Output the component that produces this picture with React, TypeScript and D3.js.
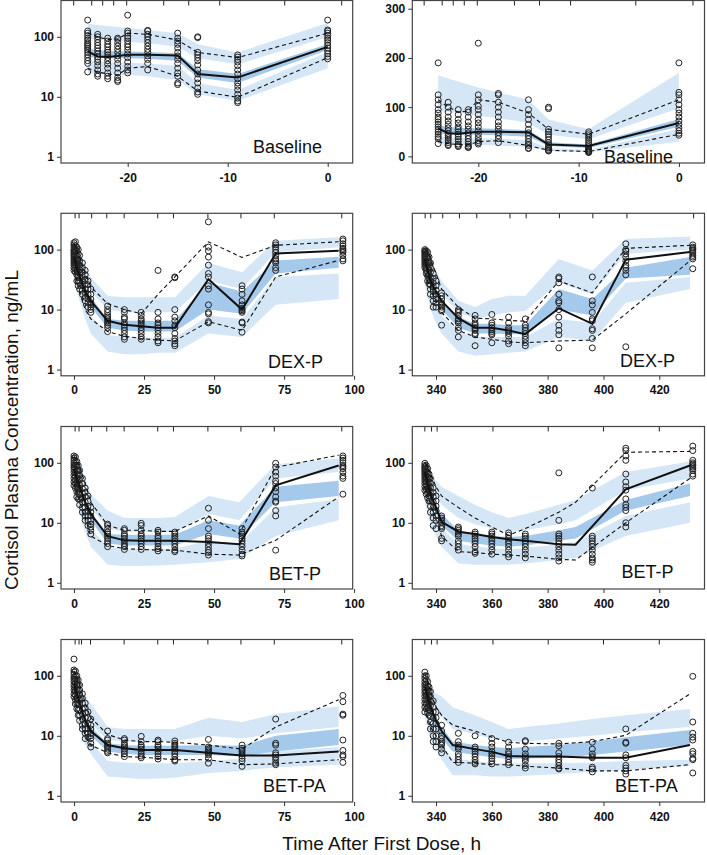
import React, { useEffect, useRef } from 'react';
import * as d3 from 'd3';

// ---- data ----
type Obs = [number, number[]][];

// Baseline (same data on log and linear panels)
const baseT = [-24, -23, -22, -21, -20, -18, -15, -13, -9, 0];
const baseMed = [57, 47, 46, 48, 50, 50, 49, 24, 21, 68];
const baseHi = [115, 100, 90, 92, 115, 110, 88, 55, 45, 115];
const baseLo = [30, 26, 24, 23, 30, 32, 22, 12.5, 9.8, 45];
const baseHiHi = [165, 158, 152, 146, 140, 130, 115, 75, 55, 170];
const baseHiLo = [92, 90, 88, 86, 82, 78, 68, 44, 35, 98];
const baseMedHi = [64, 60, 58, 57, 57, 56, 53, 29, 24, 76];
const baseMedLo = [46, 45, 44, 44, 44, 43, 40, 21, 17, 60];
const baseLoHi = [41, 39, 38, 37, 37, 36, 33, 17, 13, 56];
const baseLoLo = [25, 24, 24, 23, 23, 22, 19, 11, 8.5, 30];
const baseObs: Obs = [
  [-24, [190, 125, 115, 105, 95, 88, 80, 75, 70, 65, 60, 55, 50, 45, 40, 36, 26]],
  [-23, [110, 100, 90, 80, 72, 65, 58, 52, 46, 42, 38, 33, 28, 24, 22]],
  [-22, [95, 85, 75, 68, 60, 55, 50, 45, 40, 35, 30, 25, 22, 20]],
  [-21, [95, 90, 80, 70, 62, 55, 48, 42, 36, 30, 25, 21, 19, 18]],
  [-20, [230, 125, 115, 102, 95, 85, 75, 68, 60, 52, 45, 38, 32, 28, 25]],
  [-18, [128, 125, 110, 100, 90, 80, 70, 62, 55, 48, 42, 36, 28]],
  [-15, [115, 95, 85, 75, 65, 55, 48, 42, 36, 30, 25, 22, 17, 16]],
  [-13, [100, 97, 55, 50, 45, 40, 34, 28, 24, 20, 17, 14, 12, 11]],
  [-9, [50, 46, 42, 38, 33, 28, 24, 20, 17, 15, 13, 11, 9.5, 8.5, 8]],
  [0, [190, 130, 125, 115, 105, 95, 88, 80, 72, 65, 58, 52, 47, 43]],
];

// DEX-P, first dose
const dexLT = [0, 1, 2, 3, 4, 6, 12, 18, 24, 30, 36, 48, 60, 72, 94.5];
const dexLMed = [75, 50, 36, 27, 20, 14, 6.5, 5.6, 5.3, 5.0, 5.0, 32, 10, 86, 96];
const dexLHi = [125, 100, 75, 55, 40, 24, 12.5, 10, 8.5, 18, 35, 135, 74, 118, 135];
const dexLLo = [45, 30, 20, 14, 10, 7, 4.3, 3.6, 3.3, 3.1, 3.0, 6.3, 4.5, 35, 66];
const dexLHiHi = [150, 120, 90, 70, 55, 35, 17, 16, 16, 16, 16, 60, 42, 140, 160];
const dexLHiLo = [110, 85, 60, 45, 35, 20, 10, 9, 9, 9, 9, 30, 22, 90, 110];
const dexLMedHi = [85, 60, 42, 32, 24, 16, 7, 6.5, 6.5, 6.5, 6.5, 28, 20, 66, 76];
const dexLMedLo = [65, 44, 30, 22, 17, 11, 5, 4.5, 4.3, 4.3, 4.3, 10, 8.5, 40, 50];
const dexLLoHi = [55, 36, 25, 17, 13, 8, 3.8, 3.5, 3.4, 3.4, 3.4, 8, 7, 35, 40];
const dexLLoLo = [35, 22, 14, 10, 7, 4, 2.0, 1.8, 1.8, 1.9, 1.9, 4, 3.5, 12, 15];
const dexLObs: Obs = [
  [0, [130, 120, 110, 100, 95, 90, 85, 80, 75, 70, 65, 60, 55, 50, 45]],
  [0.5, [135, 115, 100, 90, 80, 70, 60, 55, 48, 42]],
  [1, [110, 95, 80, 70, 60, 52, 45, 38, 30]],
  [1.5, [100, 85, 70, 58, 50, 42, 36, 30, 25]],
  [2, [80, 65, 55, 46, 40, 34, 28, 22]],
  [3, [60, 50, 42, 35, 30, 25, 21, 18]],
  [4, [45, 38, 32, 27, 22, 19, 16, 14]],
  [5, [30, 26, 22, 18, 15, 13, 11]],
  [6, [22, 18, 15, 13, 12, 11, 10, 9]],
  [12, [11.5, 10, 9, 8, 7.5, 7, 6.5, 6, 5.5, 5, 4.3]],
  [18, [10, 9, 7.5, 7, 6, 5.5, 5, 4.5, 4, 3.5, 3.2]],
  [24, [9, 8, 7, 6.5, 6, 5.5, 5, 4.5, 4, 3.5, 3.2]],
  [30, [45, 9, 7, 6, 5.5, 5, 4.5, 4, 3.5, 3, 2.8]],
  [36, [35, 34, 10, 7.5, 6.5, 5.5, 5, 4, 3.3, 3, 2.7, 2.5]],
  [48, [290, 110, 95, 75, 55, 40, 35, 25, 22, 12, 9, 8.5, 6.3, 6]],
  [60, [25, 22, 18, 14, 12, 10.5, 10, 9.5, 9, 6.2, 6, 4.2]],
  [72, [130, 120, 110, 100, 90, 80, 70, 65, 60, 50, 45]],
  [96, [150, 140, 125, 115, 105, 100, 95, 90, 80, 70, 65]],
];

// DEX-P, last dose
const dexRT = [336, 337, 338, 340, 342, 348, 354, 360, 366, 372, 384, 396, 408, 431];
const dexRMed = [70, 45, 30, 20, 14, 7.2, 5, 5, 4.5, 3.9, 10.5, 5.8, 68, 91];
const dexRHi = [100, 90, 70, 40, 22, 11, 7.2, 7, 6.6, 6.4, 30, 19, 105, 118];
const dexRLo = [40, 30, 22, 14, 9, 4.5, 3.5, 3.2, 2.9, 2.8, 3.0, 3.1, 8.5, 65];
const dexRHiHi = [130, 100, 75, 45, 30, 14, 11, 15, 17, 17, 70, 45, 150, 165];
const dexRHiLo = [85, 65, 45, 26, 18, 9, 7, 8, 9, 9.5, 28, 18, 85, 100];
const dexRMedHi = [75, 50, 35, 21, 14, 7.5, 5.8, 5.8, 5.5, 5.5, 22, 15, 50, 75];
const dexRMedLo = [55, 38, 25, 15, 10, 5, 4, 4, 3.9, 3.9, 10, 8, 33, 38];
const dexRLoHi = [50, 33, 22, 13, 8, 4.3, 3.5, 3.5, 3.5, 3.5, 7, 6, 28, 35];
const dexRLoLo = [25, 16, 10, 6, 4, 2.0, 1.7, 1.8, 1.9, 2.0, 3.5, 3.0, 13, 22];
const dexRObs: Obs = [
  [336, [100, 95, 90, 85, 80, 75, 70, 65, 60, 55, 50]],
  [336.5, [95, 85, 75, 65, 58, 50, 45, 40]],
  [337, [90, 75, 62, 55, 48, 42, 36, 30]],
  [337.5, [75, 62, 52, 45, 38, 32, 27]],
  [338, [60, 50, 42, 35, 30, 26, 22, 18]],
  [339, [40, 33, 28, 24, 20, 17, 14, 11]],
  [340, [30, 25, 21, 18, 15, 13, 11]],
  [342, [19, 17, 15, 13, 12, 11, 10, 9.5, 5.5]],
  [348, [10, 9.5, 9, 8, 7, 6.5, 6, 5, 4.5, 3.5]],
  [354, [8, 7, 6, 5.5, 5, 4.8, 4.5, 4, 3.8, 2.5]],
  [360, [8.3, 6, 5.5, 5, 4.6, 4.3, 4, 3.8, 2.8]],
  [366, [7.5, 6, 5, 4.6, 4.3, 4, 3.6, 3, 2.7]],
  [372, [7, 5.5, 5, 4.5, 4, 3.6, 3.2, 2.8, 2.5]],
  [384, [35, 33, 28, 18, 14, 13, 10, 7.5, 5.5, 4.5, 3.8, 2.3]],
  [396, [35, 14, 12, 9, 7, 6.5, 4.8, 4.5, 3.3, 2.3]],
  [408, [125, 100, 95, 85, 75, 65, 55, 50, 45, 38, 2.4]],
  [432, [120, 110, 105, 100, 95, 88, 80, 75, 70, 48]],
];

// BET-P, first dose
const betLT = [0, 1, 2, 3, 4, 6, 12, 18, 24, 30, 36, 48, 59, 72, 94.5];
const betLMed = [80, 55, 40, 30, 22, 14, 6, 5.1, 5, 5, 5, 4.8, 4.4, 42, 90];
const betLHi = [130, 110, 85, 62, 45, 22, 9.1, 7.5, 7.5, 7.2, 7.2, 13, 6.6, 84, 134];
const betLLo = [45, 32, 23, 16, 12, 6, 4.2, 3.7, 3.6, 3.5, 3.5, 3.0, 2.9, 5.1, 27];
const betLHiHi = [150, 120, 95, 72, 55, 30, 16, 12, 12, 12, 12.5, 28, 22, 95, 118];
const betLHiLo = [100, 80, 60, 45, 34, 18, 8, 7, 7, 7, 7, 14, 11, 55, 70];
const betLMedHi = [85, 62, 45, 34, 25, 15, 6.5, 6.3, 6.3, 6.3, 6.3, 11, 9, 40, 50];
const betLMedLo = [65, 45, 32, 24, 18, 11, 4.5, 4.2, 4.2, 4.2, 4.2, 6.5, 5.5, 22, 28];
const betLLoHi = [55, 38, 27, 20, 15, 8, 4, 3.7, 3.7, 3.7, 3.7, 5, 4.5, 18, 25];
const betLLoLo = [35, 22, 15, 10, 7, 4, 2.0, 1.9, 1.9, 1.95, 2.0, 2.2, 2.5, 6, 11];
const betLObs: Obs = [
  [0, [130, 120, 110, 100, 92, 85, 78, 70, 62, 55, 48, 42]],
  [0.5, [125, 105, 92, 80, 70, 60, 52, 45, 38]],
  [1, [105, 90, 75, 64, 55, 47, 40, 33, 27]],
  [1.5, [90, 75, 62, 52, 44, 37, 31, 25]],
  [2, [75, 62, 52, 43, 36, 30, 25, 20]],
  [3, [55, 45, 37, 31, 26, 22, 18, 15]],
  [4, [38, 32, 27, 22, 18, 15, 13, 11]],
  [5, [28, 23, 19, 16, 13, 11, 9]],
  [6, [18, 15, 13, 11, 9.5, 8.5, 7.5, 6.5]],
  [12, [9.5, 9, 8, 7, 6.5, 6, 5.5, 5, 4.5, 4]],
  [18, [8, 7.5, 6.5, 6, 5.5, 5, 4.5, 4.2, 4, 3.6]],
  [24, [9.8, 9, 7.5, 6.5, 6, 5.5, 5, 4.5, 4, 3.6]],
  [30, [7.5, 7, 6, 5.5, 5, 4.5, 4, 3.7, 3.4]],
  [36, [7, 6.5, 6, 5.5, 5, 4.5, 4, 3.5, 3.3]],
  [48, [17.5, 11, 8, 6, 5.5, 5, 4.5, 4, 3.5, 3.2, 2.9]],
  [60, [8, 7, 6.5, 6, 5.5, 5, 4.5, 4, 3.5, 3, 2.8]],
  [72, [98, 85, 70, 60, 50, 45, 38, 33, 27, 23, 22, 16, 13, 3.5]],
  [96, [130, 120, 110, 100, 90, 85, 80, 70, 60, 55, 30]],
];

// BET-P, last dose
const betRT = [336, 337, 338, 340, 342, 348, 354, 360, 366, 372, 384, 390, 408, 431];
const betRMed = [70, 45, 30, 18, 10.4, 7.1, 6.5, 5.8, 5.3, 5.0, 4.4, 4.3, 36, 90];
const betRHi = [100, 85, 65, 40, 28, 18, 12, 8.5, 6.2, 8, 15, 22, 150, 155];
const betRLo = [40, 30, 20, 12, 6, 3.3, 3.2, 3.0, 2.9, 2.8, 2.45, 2.4, 10, 55];
const betRHiHi = [120, 90, 70, 50, 40, 28, 20, 15, 12, 14, 20, 24, 70, 105];
const betRHiLo = [85, 60, 45, 28, 20, 12, 9.5, 8, 7, 7.5, 9.5, 11, 35, 55];
const betRMedHi = [75, 50, 35, 20, 14, 7.5, 6.5, 6, 5.8, 6, 7.5, 8.5, 24, 45];
const betRMedLo = [55, 36, 24, 14, 9, 5, 4.5, 4.2, 4, 4.2, 5, 5.5, 16, 28];
const betRLoHi = [50, 32, 21, 12, 8, 4.5, 4, 3.8, 3.6, 3.8, 4.4, 4.8, 13, 22];
const betRLoLo = [22, 14, 9, 6, 4, 2.1, 2.0, 2.0, 2.0, 2.1, 2.4, 2.6, 6, 10];
const betRObs: Obs = [
  [336, [98, 90, 85, 80, 75, 70, 65, 60, 55, 50, 45, 40, 35]],
  [336.5, [90, 80, 70, 62, 55, 48, 42, 36, 30]],
  [337, [80, 68, 58, 50, 43, 37, 31, 26]],
  [337.5, [65, 55, 47, 40, 34, 28, 23]],
  [338, [55, 46, 39, 33, 28, 23, 19, 15]],
  [339, [38, 32, 27, 22, 18, 15, 12, 9]],
  [340, [28, 23, 19, 16, 13, 11, 8]],
  [342, [13, 12, 11, 10, 9, 8.5, 8, 5.5, 5]],
  [348, [8.5, 8, 7.5, 7, 6.5, 6, 5, 4.5, 4, 3.5]],
  [354, [7, 6.5, 6, 5.5, 5, 4.5, 4, 3.3, 3.1]],
  [360, [7, 6.5, 6, 5.5, 5, 4.5, 4, 3.5, 3]],
  [366, [6.8, 6.2, 5.5, 5, 4.5, 4, 3.5, 3, 2.7]],
  [372, [6.5, 6, 5.5, 5, 4.5, 4, 3.5, 3, 2.6]],
  [384, [68, 11, 6.5, 6, 5.5, 5, 4.5, 4, 3.5, 3, 2.6, 2.3]],
  [396, [38, 6, 5.5, 5, 4.5, 4, 3.5, 3, 2.6, 2.4, 2.2]],
  [408, [175, 160, 130, 110, 65, 48, 40, 35, 25, 20, 18, 16, 10, 8.5]],
  [432, [190, 160, 110, 100, 95, 90, 85, 80, 75, 65, 60]],
];

// BET-PA, first dose
const paLT = [0, 1, 2, 3, 4, 6, 12, 18, 24, 30, 36, 48, 60, 72, 94.5];
const paLMed = [75, 50, 35, 25, 18, 12, 7, 6.2, 5.8, 5.8, 5.8, 5.2, 4.7, 4.7, 5.5];
const paLHi = [120, 95, 70, 50, 35, 20, 10.5, 8.5, 8, 8, 7.8, 7.0, 6.0, 14, 40];
const paLLo = [45, 30, 21, 15, 10, 7, 5.2, 4.5, 4.4, 4.2, 4.0, 4.0, 3.3, 3.4, 4.0];
const paLHiHi = [110, 90, 70, 55, 45, 35, 14, 13, 13, 13, 13, 20, 17, 23, 31];
const paLHiLo = [80, 60, 45, 34, 26, 16, 8.5, 8, 8, 8, 8.2, 10, 9, 11, 14];
const paLMedHi = [75, 52, 37, 27, 20, 14, 7.5, 7, 6.8, 6.8, 6.8, 7, 6.8, 10, 13];
const paLMedLo = [55, 38, 27, 19, 14, 10, 5.5, 5, 4.8, 4.8, 4.8, 4.8, 4.5, 5.5, 7];
const paLLoHi = [50, 33, 23, 16, 12, 8, 3.8, 3.6, 3.5, 3.5, 3.5, 3.8, 4.2, 5.5, 6.5];
const paLLoLo = [30, 20, 14, 10, 7, 5, 2.1, 2.0, 1.9, 1.95, 2.0, 2.4, 2.6, 3.0, 3.3];
const paLObs: Obs = [
  [0, [190, 125, 115, 105, 95, 88, 80, 72, 65, 58, 50, 45]],
  [0.5, [120, 100, 88, 76, 65, 56, 48, 40, 34]],
  [1, [100, 85, 72, 60, 50, 42, 35, 28]],
  [1.5, [85, 70, 58, 48, 40, 33, 27, 22]],
  [2, [70, 58, 48, 40, 33, 27, 22, 18]],
  [3, [50, 42, 35, 28, 23, 19, 15, 13]],
  [4, [35, 29, 24, 20, 16, 13, 11, 9]],
  [5, [25, 20, 16, 13, 11, 9.5]],
  [6, [19, 15, 13, 11, 10, 9, 7.5, 6.5]],
  [12, [12, 9, 8.5, 7.5, 7, 6.5, 6, 5.5, 5.2]],
  [18, [9, 8.5, 7.5, 7, 6.5, 6, 5.5, 5, 4.5]],
  [24, [9.8, 8, 7, 6.5, 6, 5.5, 5, 4.6, 4.3]],
  [30, [8.5, 8, 7, 6.5, 6, 5.5, 5, 4.5, 4.1]],
  [36, [8.2, 7.5, 7, 6.5, 6, 5.5, 5, 4.5, 4, 3.8]],
  [48, [8.7, 6.5, 6, 5.7, 5.4, 5.1, 4.8, 4.2, 3.5]],
  [60, [7, 6.2, 5.8, 5.4, 5, 4.6, 4.2, 3.8, 3.1]],
  [72, [19, 7.5, 7, 5.2, 4.8, 4.4, 4, 3.5, 3.3]],
  [96, [47, 37, 23, 22, 8.5, 5.7, 4.8, 4.5, 3.6]],
];

// BET-PA, last dose
const paRT = [336, 337, 338, 340, 342, 346, 354, 360, 366, 372, 384, 396, 408, 431];
const paRMed = [65, 45, 30, 18, 12, 7, 6, 5.4, 4.6, 4.5, 4.5, 4.3, 4.3, 7];
const paRHi = [110, 80, 55, 30, 22, 15, 12, 9.5, 7.8, 7.5, 7.3, 8, 10.2, 50];
const paRLo = [30, 20, 14, 10, 7, 3.6, 3.5, 3.3, 3.3, 3.1, 2.9, 2.6, 2.6, 3.3];
const paRHiHi = [100, 80, 65, 50, 45, 30, 22, 17, 13, 14, 16, 19, 22, 28];
const paRHiLo = [75, 50, 35, 25, 20, 13, 10.5, 9, 8, 8, 9, 10, 11.5, 14];
const paRMedHi = [65, 42, 28, 18, 14, 8, 7, 6.5, 6.2, 6.5, 7, 8, 9.5, 12.5];
const paRMedLo = [45, 30, 20, 12, 9, 5.5, 4.8, 4.4, 4.1, 4.2, 4.3, 4.8, 5.5, 7];
const paRLoHi = [40, 26, 17, 10, 7, 4.2, 3.8, 3.6, 3.5, 3.5, 3.5, 3.6, 3.8, 4];
const paRLoLo = [20, 13, 9, 6, 4, 2.2, 2.2, 2.1, 2.1, 2.15, 2.3, 2.5, 2.7, 3.2];
const paRObs: Obs = [
  [336, [115, 100, 90, 80, 72, 65, 58, 52, 46, 40, 35, 30, 25]],
  [336.5, [100, 85, 72, 62, 54, 47, 40, 34, 28]],
  [337, [80, 68, 58, 50, 42, 36, 30, 24]],
  [337.5, [65, 55, 46, 39, 33, 27, 22]],
  [338, [55, 45, 38, 32, 26, 21, 17, 13]],
  [339, [38, 30, 25, 20, 16, 13, 10, 8]],
  [340, [25, 20, 16, 13, 10, 8, 6.5]],
  [342, [15, 12, 10, 9, 8, 7.5, 7, 6, 5.2]],
  [348, [11, 8, 7, 6.5, 6, 5, 4.5, 4, 3.6]],
  [354, [10, 6.5, 6, 5.5, 5, 4.5, 4, 3.6, 3.4]],
  [360, [9, 7.5, 6.5, 5.5, 5, 4.6, 4.2, 3.8, 3.4]],
  [366, [7.8, 6.5, 5.5, 5, 4.5, 4, 3.6, 3.3]],
  [372, [8.3, 8, 6, 5, 4.5, 4.2, 3.8, 3.2, 2.9]],
  [384, [7.5, 6.8, 5.2, 4.5, 4, 3.6, 3.2, 2.9, 2.8]],
  [396, [7.8, 6, 5, 4.5, 4.3, 3, 2.8, 2.5]],
  [408, [13, 7.8, 7.5, 4.8, 4.3, 3.2, 2.9, 2.6, 2.3]],
  [432, [98, 17, 11, 9.5, 8.5, 5.5, 5, 4.2, 4, 2.4]],
];

// tick marks along the top edge
const baseRug = [-25.4, -23.6, -22.5, -21.4, -20.1, -16.4, -13.9, -10.8, -4.3, 1.4];
const firstRug = [0.4, 1.8, 6.3, 11.7, 17.9, 29.9, 35.5, 47.8, 59.6, 71.5, 95.6];
const firstRugPA = [0.4, 1.8, 2.7, 5.9, 17.9, 29.9, 35.5, 47.8, 59.6, 71.5, 95.6];
const lastRugDex = [336.1, 338.1, 342.4, 348.4, 354.6, 366.5, 372.3, 384.2, 396.2, 408.4, 432.3];
const lastRugBet = [336, 338.4, 340.4, 360.4, 380.2, 400, 420];

const baseTicks = [-20, -10, 0];
const firstTicks = [0, 25, 50, 75, 100];
const lastTicks = [340, 360, 380, 400, 420];
const logTicks = [1, 10, 100];
const linTicks = [0, 100, 200, 300];

// ---- layout ----
const FONT = "'Liberation Sans', Arial, Helvetica, sans-serif";
const LIGHT = '#d5e7f7';
const DARK = '#a5c9eb';
const COLS = [{ x0: 61, x1: 352.7 }, { x0: 412.3, x1: 704.5 }];
const ROWS = [0.5, 213.3, 426.5, 639.5];
const PH = 162.5;

interface Spec {
  id: string;
  label: string;
  col: number;
  row: number;
  linear?: boolean;
  xDomain: [number, number];
  xTicks: number[];
  rug: number[];
  T: number[];
  med: number[];
  hi: number[];
  lo: number[];
  hiHi: number[];
  hiLo: number[];
  medHi: number[];
  medLo: number[];
  loHi: number[];
  loLo: number[];
  obs: Obs;
  labelAt: [number, number];
}

const base = {
  T: baseT, med: baseMed, hi: baseHi, lo: baseLo, hiHi: baseHiHi, hiLo: baseHiLo,
  medHi: baseMedHi, medLo: baseMedLo, loHi: baseLoHi, loLo: baseLoLo, obs: baseObs,
};

const panels: Spec[] = [
  { id: 'p1', label: 'Baseline', col: 0, row: 0, xDomain: [-26.67, 2.5], xTicks: baseTicks, rug: baseRug, ...base, labelAt: [253, 153] },
  { id: 'p2', label: 'Baseline', col: 1, row: 0, linear: true, xDomain: [-26.58, 2.55], xTicks: baseTicks, rug: baseRug, ...base, labelAt: [604, 162.5] },
  { id: 'p3', label: 'DEX-P', col: 0, row: 1, xDomain: [-4.64, 99.5], xTicks: firstTicks, rug: firstRug,
    T: dexLT, med: dexLMed, hi: dexLHi, lo: dexLLo, hiHi: dexLHiHi, hiLo: dexLHiLo, medHi: dexLMedHi, medLo: dexLMedLo, loHi: dexLLoHi, loLo: dexLLoLo, obs: dexLObs, labelAt: [268, 368] },
  { id: 'p4', label: 'DEX-P', col: 1, row: 1, xDomain: [331.5, 436.2], xTicks: lastTicks, rug: lastRugDex,
    T: dexRT, med: dexRMed, hi: dexRHi, lo: dexRLo, hiHi: dexRHiHi, hiLo: dexRHiLo, medHi: dexRMedHi, medLo: dexRMedLo, loHi: dexRLoHi, loLo: dexRLoLo, obs: dexRObs, labelAt: [620, 367] },
  { id: 'p5', label: 'BET-P', col: 0, row: 2, xDomain: [-4.64, 99.5], xTicks: firstTicks, rug: firstRug,
    T: betLT, med: betLMed, hi: betLHi, lo: betLLo, hiHi: betLHiHi, hiLo: betLHiLo, medHi: betLMedHi, medLo: betLMedLo, loHi: betLLoHi, loLo: betLLoLo, obs: betLObs, labelAt: [269, 580] },
  { id: 'p6', label: 'BET-P', col: 1, row: 2, xDomain: [331.5, 436.2], xTicks: lastTicks, rug: lastRugBet,
    T: betRT, med: betRMed, hi: betRHi, lo: betRLo, hiHi: betRHiHi, hiLo: betRHiLo, medHi: betRMedHi, medLo: betRMedLo, loHi: betRLoHi, loLo: betRLoLo, obs: betRObs, labelAt: [621.5, 578] },
  { id: 'p7', label: 'BET-PA', col: 0, row: 3, xDomain: [-4.64, 99.5], xTicks: firstTicks, rug: firstRugPA,
    T: paLT, med: paLMed, hi: paLHi, lo: paLLo, hiHi: paLHiHi, hiLo: paLHiLo, medHi: paLMedHi, medLo: paLMedLo, loHi: paLLoHi, loLo: paLLoLo, obs: paLObs, labelAt: [263, 792] },
  { id: 'p8', label: 'BET-PA', col: 1, row: 3, xDomain: [331.5, 436.2], xTicks: lastTicks, rug: lastRugBet,
    T: paRT, med: paRMed, hi: paRHi, lo: paRLo, hiHi: paRHiHi, hiLo: paRHiLo, medHi: paRMedHi, medLo: paRMedLo, loHi: paRLoHi, loLo: paRLoLo, obs: paRObs, labelAt: [615, 792] },
];

const Axis: React.FC<{ scale: any; orient: 'left' | 'bottom'; ticks: number[]; transform: string }> = ({ scale, orient, ticks, transform }) => {
  const ref = useRef<SVGGElement>(null);
  useEffect(() => {
    if (!ref.current) return;
    const g = d3.select(ref.current);
    const ax = orient === 'left' ? d3.axisLeft(scale) : d3.axisBottom(scale);
    ax.tickValues(ticks)
      .tickSize(4)
      .tickPadding(orient === 'left' ? 3 : 6)
      .tickFormat((d: any) => String(d));
    g.selectAll('*').remove();
    g.call(ax as any);
    g.attr('font-family', FONT).attr('font-size', 12).attr('font-weight', 'bold');
    g.select('.domain').remove();
    g.selectAll('line').attr('stroke', '#333').attr('stroke-width', 1);
    g.selectAll('text').attr('fill', '#111');
  }, [scale, orient, ticks]);
  return <g ref={ref} transform={transform} />;
};

const Panel: React.FC<{ p: Spec }> = ({ p }) => {
  const { x0, x1 } = COLS[p.col];
  const top = ROWS[p.row];
  const bottom = top + PH;
  const x = d3.scaleLinear().domain(p.xDomain).range([x0, x1]);
  const y: any = p.linear
    ? d3.scaleLinear().domain([-13.4, 316.7]).range([bottom, top])
    : d3.scaleLog().domain([0.788, 403]).range([bottom, top]);

  const band = (a: number[], b: number[]) =>
    d3.area<number>()
      .x(d => x(d))
      .y0((_, i) => y(a[i]))
      .y1((_, i) => y(b[i]))(p.T) || '';
  const line = (v: number[]) =>
    d3.line<number>()
      .x((_, i) => x(p.T[i]))
      .y(d => y(d))(v) || '';

  const clip = `clip-${p.id}`;
  return (
    <g>
      <defs>
        <clipPath id={clip}>
          <rect x={x0} y={top} width={x1 - x0} height={PH} />
        </clipPath>
      </defs>
      <g clipPath={`url(#${clip})`}>
        <path d={band(p.hiLo, p.hiHi)} fill={LIGHT} />
        <path d={band(p.loLo, p.loHi)} fill={LIGHT} />
        <path d={band(p.medLo, p.medHi)} fill={DARK} />
        {p.obs.map(([t, vals]) =>
          vals.map((v, j) => (
            <circle key={`${t}-${j}`} cx={x(t)} cy={y(v)} r={3} fill="none" stroke="#222" strokeWidth={1} />
          ))
        )}
        <path d={line(p.hi)} fill="none" stroke="#111" strokeWidth={1.1} strokeDasharray="4,3" />
        <path d={line(p.lo)} fill="none" stroke="#111" strokeWidth={1.1} strokeDasharray="4,3" />
        <path d={line(p.med)} fill="none" stroke="#111" strokeWidth={2} />
      </g>
      {p.rug.map((t, i) => (
        <line key={i} x1={x(t)} x2={x(t)} y1={top} y2={top + 5} stroke="#222" strokeWidth={1} />
      ))}
      <rect x={x0} y={top} width={x1 - x0} height={PH} fill="none" stroke="#444" strokeWidth={1.2} />
      <Axis scale={y} orient="left" ticks={p.linear ? linTicks : logTicks} transform={`translate(${x0},0)`} />
      <Axis scale={x} orient="bottom" ticks={p.xTicks} transform={`translate(0,${bottom})`} />
      <text x={p.labelAt[0]} y={p.labelAt[1]} fontFamily={FONT} fontSize={18} fill="#111">{p.label}</text>
    </g>
  );
};

export default function App() {
  return (
    <svg width={707} height={855} style={{ position: 'absolute', left: 0, top: 0, background: '#fff' }}>
      <rect x={0} y={0} width={707} height={855} fill="#fff" />
      {panels.map(p => <Panel key={p.id} p={p} />)}
      <text transform="translate(17.5,430) rotate(-90)" textAnchor="middle" fontFamily={FONT} fontSize={19} fill="#111">
        Cortisol Plasma Concentration, ng/mL
      </text>
      <text x={381.7} y={850} textAnchor="middle" fontFamily={FONT} fontSize={19} fill="#111">
        Time After First Dose, h
      </text>
    </svg>
  );
}
